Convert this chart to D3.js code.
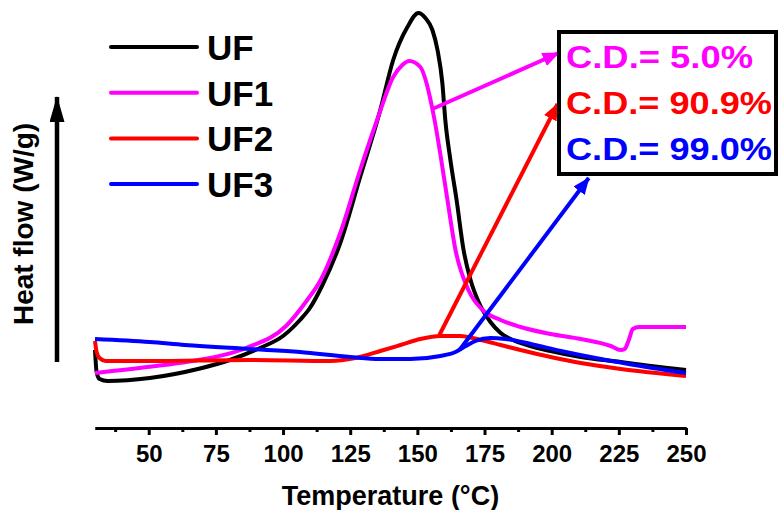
<!DOCTYPE html>
<html>
<head>
<meta charset="utf-8">
<script src="https://cdn.jsdelivr.net/npm/d3@7"></script>
<style>
    body { margin: 0; background: #fff; }
    svg { display: block; font-family: "Liberation Sans", Arial, sans-serif; font-weight: bold; }
    .axis path, .axis line { stroke: #000; stroke-width: 3; }
    .axis text { font-size: 24px; font-weight: bold; fill: #000; }
</style>
</head>
<body>
<div id="container"></div>
<script>
// DSC traces: [temperature (°C), heat flow (a.u., exo up)]
const UF = [[30, 1.25], [30.6, 0.7], [31.7, 0.525], [34.7, 0.475], [50.4, 0.55], [68.3, 0.775], [80.2, 1.0],
    [91.4, 1.3], [100, 1.6], [106.3, 2.0], [110, 2.3], [114.5, 2.85], [121.3, 3.925], [128.7, 5.575],
    [136.2, 7.25], [141, 8.5], [146.3, 9.325], [150.4, 9.675], [153, 9.55], [155.6, 9.25], [157.5, 8.75],
    [159.3, 7.925], [160.4, 7.0], [162.3, 6.0], [164.6, 5.0], [167.2, 3.75], [169.8, 3.0], [172.8, 2.45],
    [177.2, 1.95], [181, 1.675], [188.4, 1.425], [199.6, 1.225], [210.8, 1.075], [225.7, 0.95],
    [236.9, 0.85], [250, 0.75]];
const UF1 = [[30, 0.675], [50.4, 0.83], [65, 0.96], [86.2, 1.3], [101.1, 1.85], [109, 2.5],
    [113.8, 2.975], [121.3, 4.175], [128.7, 5.75], [135.4, 7.075], [141, 8.075], [144.4, 8.375], [147, 8.475],
    [151.1, 8.325], [153.4, 7.925], [154.9, 7.5], [156.4, 7.0], [158.6, 6.125], [161.2, 5.0], [164.2, 3.75],
    [169, 2.75], [174.3, 2.25], [181, 2.0], [188.4, 1.825], [199.6, 1.65], [210.8, 1.525], [222, 1.35],
    [225.7, 1.25], [227.2, 1.275], [228.7, 1.5], [230.2, 1.775], [232.5, 1.825], [250, 1.825]];
const UF2 = [[30, 1.475], [30.6, 1.2], [31.7, 1.05], [34, 0.975], [50.4, 0.975], [87.7, 1.0], [117.5, 0.975],
    [126.9, 1.05], [136.2, 1.225], [143.7, 1.375], [151.1, 1.525], [158.6, 1.6], [166, 1.6], [173.5, 1.5],
    [181, 1.375], [188.4, 1.25], [199.6, 1.075], [210.8, 0.925], [225.7, 0.775], [250, 0.6]];
const UF3 = [[30, 1.525], [50.4, 1.45], [63.4, 1.375], [87.7, 1.275], [106.3, 1.2], [125, 1.075],
    [136.2, 1.025], [147.4, 1.025], [158.6, 1.1], [164.2, 1.2], [168, 1.35], [171.6, 1.475], [177.2, 1.55],
    [182.8, 1.525], [192.2, 1.4], [203.4, 1.225], [218.3, 1.025], [233.2, 0.85], [250, 0.675]];

const seriesNames = ['UF', 'UF1', 'UF2', 'UF3'];
const seriesColors = ['#000000', '#ff00ff', '#ff0000', '#0000ff'];
const seriesData = [UF, UF1, UF2, UF3];

const majorTicks = [50, 75, 100, 125, 150, 175, 200, 225, 250];
const minorTicks = [37.5, 62.5, 87.5, 112.5, 137.5, 162.5, 187.5, 212.5, 237.5];

// conversion degree annotations: label, arrow start [T, HF], arrow end [T, HF]
const cdLabels = ['C.D.= 5.0%', 'C.D.= 90.9%', 'C.D.= 99.0%'];
const cdColors = ['#ff00ff', '#ff0000', '#0000ff'];
const cdFrom = [[155.6, 7.275], [158.2, 1.625], [165.7, 1.25]];
const cdTo = [[202.6, 8.675], [202.2, 7.4], [213.8, 5.55]];

const W = 778, H = 510;
const svg = d3.select('#container').append('svg')
    .attr('width', W)
    .attr('height', H);

const xScale = d3.scaleLinear().domain([30, 250]).range([95, 686]);
const yScale = d3.scaleLinear().domain([0, 10]).range([400, 0]);
const axisY = 428;

const defs = svg.append('defs');
const addHead = (id, color, len, wid) => defs.append('marker')
    .attr('id', id)
    .attr('markerUnits', 'userSpaceOnUse')
    .attr('viewBox', `0 0 ${len} ${wid}`)
    .attr('refX', len - 1)
    .attr('refY', wid / 2)
    .attr('markerWidth', len)
    .attr('markerHeight', wid)
    .attr('orient', 'auto')
    .append('path')
    .attr('d', `M0,0L${len},${wid / 2}L0,${wid}Z`)
    .attr('fill', color);

cdColors.forEach((c, i) => addHead('head' + i, c, 17, 14));
addHead('headY', '#000', 26, 15);

// bottom axis
svg.append('g')
    .attr('class', 'axis')
    .attr('transform', `translate(0, ${axisY})`)
    .call(d3.axisBottom(xScale).tickValues(minorTicks).tickSize(4).tickSizeOuter(0).tickFormat(''));

const xAxis = svg.append('g')
    .attr('class', 'axis')
    .attr('transform', `translate(0, ${axisY})`)
    .call(d3.axisBottom(xScale).tickValues(majorTicks).tickSize(7).tickSizeOuter(0).tickPadding(10));
xAxis.selectAll('text').attr('dy', '0.71em');

svg.append('text')
    .attr('x', (xScale.range()[0] + xScale.range()[1]) / 2)
    .attr('y', 505)
    .attr('text-anchor', 'middle')
    .attr('font-size', 27)
    .text('Temperature (°C)');

// y label with arrow
svg.append('text')
    .attr('transform', 'translate(33, 224) rotate(-90)')
    .attr('text-anchor', 'middle')
    .attr('font-size', 28)
    .text('Heat flow (W/g)');

svg.append('line')
    .attr('x1', 57).attr('y1', 362)
    .attr('x2', 57).attr('y2', 97)
    .attr('stroke', '#000')
    .attr('stroke-width', 4.5)
    .attr('marker-end', 'url(#headY)');

// curves
const line = d3.line()
    .x(d => xScale(d[0]))
    .y(d => yScale(d[1]))
    .curve(d3.curveMonotoneX);

svg.append('g')
    .selectAll('path')
    .data(seriesData)
    .enter()
    .append('path')
    .attr('d', line)
    .attr('fill', 'none')
    .attr('stroke', (d, i) => seriesColors[i])
    .attr('stroke-width', 4)
    .attr('stroke-linejoin', 'round');

// legend
const legend = svg.append('g')
    .selectAll('g')
    .data(seriesNames)
    .enter()
    .append('g')
    .attr('transform', (d, i) => `translate(111, ${47 + i * 45.7})`);

legend.append('line')
    .attr('x1', 0).attr('x2', 86)
    .attr('stroke', (d, i) => seriesColors[i])
    .attr('stroke-width', 4)
    .attr('stroke-linecap', 'round');

legend.append('text')
    .attr('x', 96)
    .attr('y', 13)
    .attr('font-size', 35)
    .text(d => d);

// annotation arrows
svg.append('g')
    .selectAll('line')
    .data(cdFrom)
    .enter()
    .append('line')
    .attr('x1', d => xScale(d[0]))
    .attr('y1', d => yScale(d[1]))
    .attr('x2', (d, i) => xScale(cdTo[i][0]))
    .attr('y2', (d, i) => yScale(cdTo[i][1]))
    .attr('stroke', (d, i) => cdColors[i])
    .attr('stroke-width', 4)
    .attr('marker-end', (d, i) => `url(#head${i})`);

// conversion box
svg.append('rect')
    .attr('x', 559)
    .attr('y', 32)
    .attr('width', 217)
    .attr('height', 142)
    .attr('fill', 'none')
    .attr('stroke', '#000')
    .attr('stroke-width', 4);

svg.append('g')
    .selectAll('text')
    .data(cdLabels)
    .enter()
    .append('text')
    .attr('x', 566)
    .attr('y', (d, i) => 68 + i * 46)
    .attr('font-size', 31)
    .attr('fill', (d, i) => cdColors[i])
    .attr('textLength', (d, i) => i === 0 ? 187 : 206)
    .attr('lengthAdjust', 'spacingAndGlyphs')
    .text(d => d);
</script>
</body>
</html>
